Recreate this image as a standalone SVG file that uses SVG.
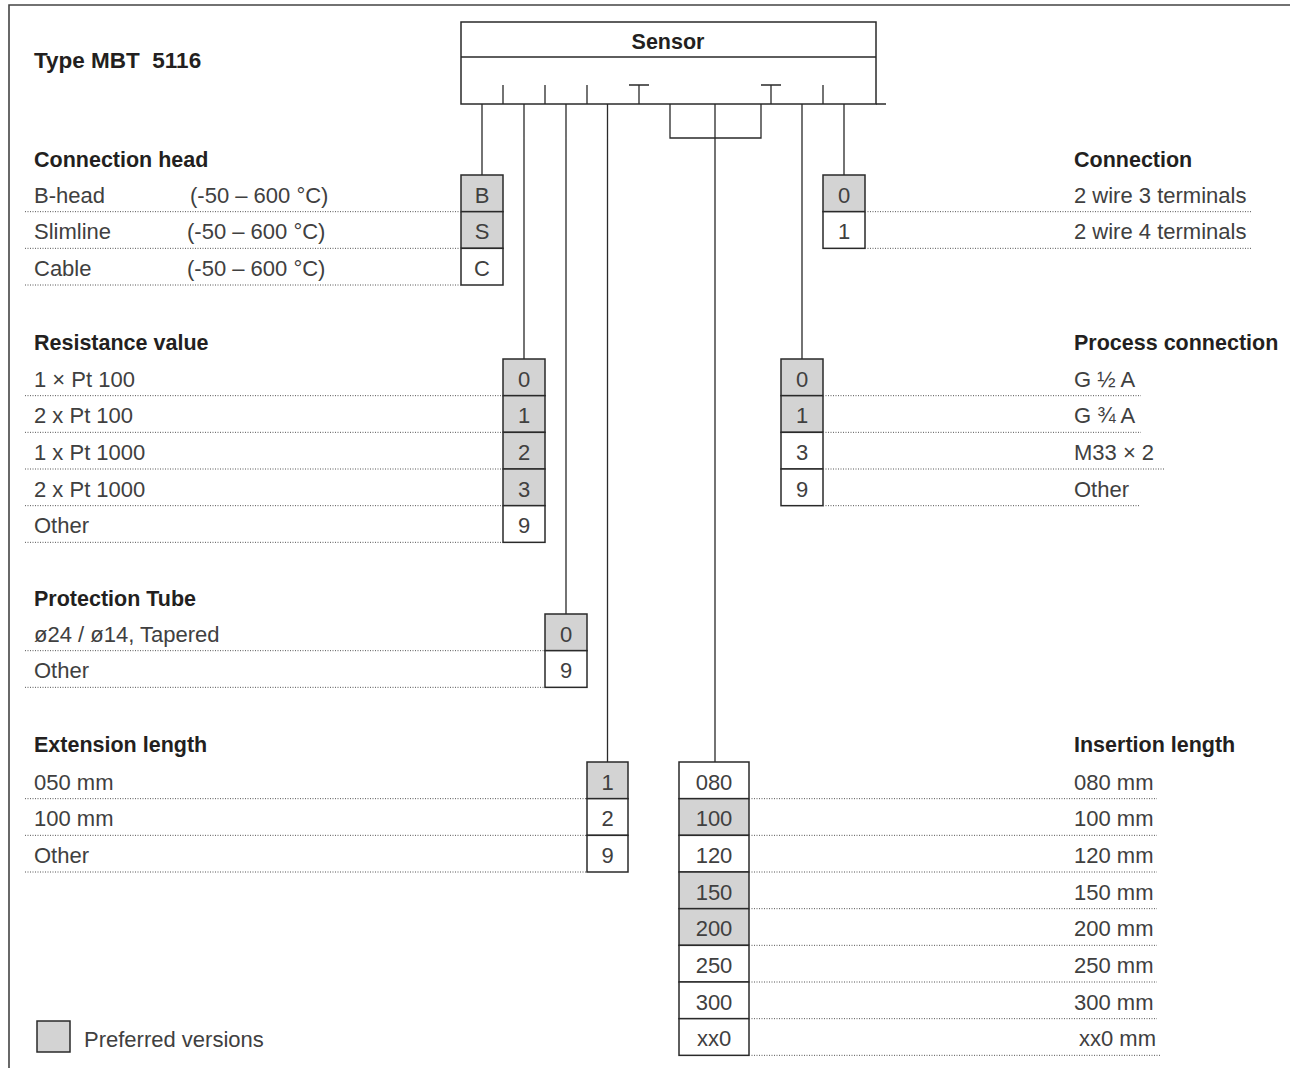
<svg xmlns="http://www.w3.org/2000/svg" width="1290" height="1068" viewBox="0 0 1290 1068">
<style>
.frame{stroke:#444;stroke-width:1.6;fill:none}
.ln{stroke:#2a2a2a;stroke-width:1.3;fill:none}
.bx{stroke:#2a2a2a;stroke-width:1.5}
.p{fill:#d3d3d3}
.w{fill:#fff}
.dot{stroke:#555;stroke-width:1;stroke-dasharray:1 1.5;fill:none}
.h{font-family:"Liberation Sans",Arial,sans-serif;font-weight:bold;font-size:21.5px;fill:#231f20}
.t{font-family:"Liberation Sans",Arial,sans-serif;font-size:22px;fill:#404040}
.c{text-anchor:middle}
</style>
<rect width="1290" height="1068" fill="#fff"/>
<path class="frame" d="M9,1068 V5 H1290"/>

<g id="title">
<text class="h" x="34" y="68" style="font-size:22.5px" xml:space="preserve">Type MBT  5116</text>
</g>

<g id="sensor">
<rect class="bx" x="461" y="22" width="415" height="82" fill="#fff"/>
<path class="ln" d="M461,57 H876 M876,104 H886 M503,104 V85 M545,104 V85 M587,104 V85 M639,104 V85 M629,85 H649 M771,104 V85 M761,85 H781 M823,104 V85"/>
<text class="h c" x="668" y="49">Sensor</text>
</g>

<g id="connectors">
<path class="ln" d="M482,104 V175 M524,104 V359 M566,104 V614 M607.5,104 V762 M670,104 V138 H761 V104 M715,104 V762 M802,104 V359 M844,104 V175"/>
</g>

<g id="connection-head">
<text class="h" x="34" y="167">Connection head</text>
<rect class="bx p" x="461" y="175" width="42" height="36.67"/>
<rect class="bx p" x="461" y="211.67" width="42" height="36.67"/>
<rect class="bx w" x="461" y="248.33" width="42" height="36.67"/>
<text class="t c" x="482" y="202.5">B</text>
<text class="t c" x="482" y="239.2">S</text>
<text class="t c" x="482" y="275.8">C</text>
<text class="t" x="34" y="202.5">B-head</text><text class="t" x="190" y="202.5">(-50 – 600 °C)</text>
<text class="t" x="34" y="239.2">Slimline</text><text class="t" x="187" y="239.2">(-50 – 600 °C)</text>
<text class="t" x="34" y="275.8">Cable</text><text class="t" x="187" y="275.8">(-50 – 600 °C)</text>
<path class="dot" d="M25,211.67 H461 M25,248.33 H461 M25,285 H461"/>
</g>

<g id="resistance-value">
<text class="h" x="34" y="350">Resistance value</text>
<rect class="bx p" x="503" y="359" width="42" height="36.67"/>
<rect class="bx p" x="503" y="395.67" width="42" height="36.67"/>
<rect class="bx p" x="503" y="432.33" width="42" height="36.67"/>
<rect class="bx p" x="503" y="469" width="42" height="36.67"/>
<rect class="bx w" x="503" y="505.67" width="42" height="36.67"/>
<text class="t c" x="524" y="386.5">0</text>
<text class="t c" x="524" y="423.2">1</text>
<text class="t c" x="524" y="459.8">2</text>
<text class="t c" x="524" y="496.5">3</text>
<text class="t c" x="524" y="533.2">9</text>
<text class="t" x="34" y="386.5">1 × Pt 100</text>
<text class="t" x="34" y="423.2">2 x Pt 100</text>
<text class="t" x="34" y="459.8">1 x Pt 1000</text>
<text class="t" x="34" y="496.5">2 x Pt 1000</text>
<text class="t" x="34" y="533.2">Other</text>
<path class="dot" d="M25,395.67 H503 M25,432.33 H503 M25,469 H503 M25,505.67 H503 M25,542.33 H503"/>
</g>

<g id="protection-tube">
<text class="h" x="34" y="606">Protection Tube</text>
<rect class="bx p" x="545" y="614" width="42" height="36.67"/>
<rect class="bx w" x="545" y="650.67" width="42" height="36.67"/>
<text class="t c" x="566" y="641.5">0</text>
<text class="t c" x="566" y="678.2">9</text>
<text class="t" x="34" y="641.5">ø24 / ø14, Tapered</text>
<text class="t" x="34" y="678.2">Other</text>
<path class="dot" d="M25,650.67 H545 M25,687.33 H545"/>
</g>

<g id="extension-length">
<text class="h" x="34" y="752">Extension length</text>
<rect class="bx p" x="587" y="762" width="41" height="36.67"/>
<rect class="bx w" x="587" y="798.67" width="41" height="36.67"/>
<rect class="bx w" x="587" y="835.33" width="41" height="36.67"/>
<text class="t c" x="607.5" y="789.5">1</text>
<text class="t c" x="607.5" y="826.2">2</text>
<text class="t c" x="607.5" y="862.8">9</text>
<text class="t" x="34" y="789.5">050 mm</text>
<text class="t" x="34" y="826.2">100 mm</text>
<text class="t" x="34" y="862.8">Other</text>
<path class="dot" d="M25,798.67 H587 M25,835.33 H587 M25,872 H587"/>
</g>

<g id="insertion-length">
<text class="h" x="1074" y="752">Insertion length</text>
<rect class="bx w" x="679" y="762" width="70" height="36.67"/>
<rect class="bx p" x="679" y="798.67" width="70" height="36.67"/>
<rect class="bx w" x="679" y="835.33" width="70" height="36.67"/>
<rect class="bx p" x="679" y="872" width="70" height="36.67"/>
<rect class="bx p" x="679" y="908.67" width="70" height="36.67"/>
<rect class="bx w" x="679" y="945.33" width="70" height="36.67"/>
<rect class="bx w" x="679" y="982" width="70" height="36.67"/>
<rect class="bx w" x="679" y="1018.67" width="70" height="36.67"/>
<text class="t c" x="714" y="789.5">080</text>
<text class="t c" x="714" y="826.2">100</text>
<text class="t c" x="714" y="862.8">120</text>
<text class="t c" x="714" y="899.5">150</text>
<text class="t c" x="714" y="936.2">200</text>
<text class="t c" x="714" y="972.8">250</text>
<text class="t c" x="714" y="1009.5">300</text>
<text class="t c" x="714" y="1046.2">xx0</text>
<text class="t" x="1074" y="789.5">080 mm</text>
<text class="t" x="1074" y="826.2">100 mm</text>
<text class="t" x="1074" y="862.8">120 mm</text>
<text class="t" x="1074" y="899.5">150 mm</text>
<text class="t" x="1074" y="936.2">200 mm</text>
<text class="t" x="1074" y="972.8">250 mm</text>
<text class="t" x="1074" y="1009.5">300 mm</text>
<text class="t" x="1079" y="1046.2">xx0 mm</text>
<path class="dot" d="M749,798.67 H1157 M749,835.33 H1157 M749,872 H1157 M749,908.67 H1157 M749,945.33 H1157 M749,982 H1157 M749,1018.67 H1157 M749,1055.33 H1160"/>
</g>

<g id="connection">
<text class="h" x="1074" y="167">Connection</text>
<rect class="bx p" x="823" y="175" width="42" height="36.67"/>
<rect class="bx w" x="823" y="211.67" width="42" height="36.67"/>
<text class="t c" x="844" y="202.5">0</text>
<text class="t c" x="844" y="239.2">1</text>
<text class="t" x="1074" y="202.5">2 wire 3 terminals</text>
<text class="t" x="1074" y="239.2">2 wire 4 terminals</text>
<path class="dot" d="M865,211.67 H1252 M865,248.33 H1252"/>
</g>

<g id="process-connection">
<text class="h" x="1074" y="350">Process connection</text>
<rect class="bx p" x="781" y="359" width="42" height="36.67"/>
<rect class="bx p" x="781" y="395.67" width="42" height="36.67"/>
<rect class="bx w" x="781" y="432.33" width="42" height="36.67"/>
<rect class="bx w" x="781" y="469" width="42" height="36.67"/>
<text class="t c" x="802" y="386.5">0</text>
<text class="t c" x="802" y="423.2">1</text>
<text class="t c" x="802" y="459.8">3</text>
<text class="t c" x="802" y="496.5">9</text>
<text class="t" x="1074" y="386.5">G ½ A</text>
<text class="t" x="1074" y="423.2">G ¾ A</text>
<text class="t" x="1074" y="459.8">M33 × 2</text>
<text class="t" x="1074" y="496.5">Other</text>
<path class="dot" d="M823,395.67 H1141 M823,432.33 H1141 M823,469 H1164 M823,505.67 H1140"/>
</g>

<g id="legend">
<rect class="bx p" x="37" y="1021" width="33" height="31"/>
<text class="t" x="84" y="1046.5">Preferred versions</text>
</g>
</svg>
